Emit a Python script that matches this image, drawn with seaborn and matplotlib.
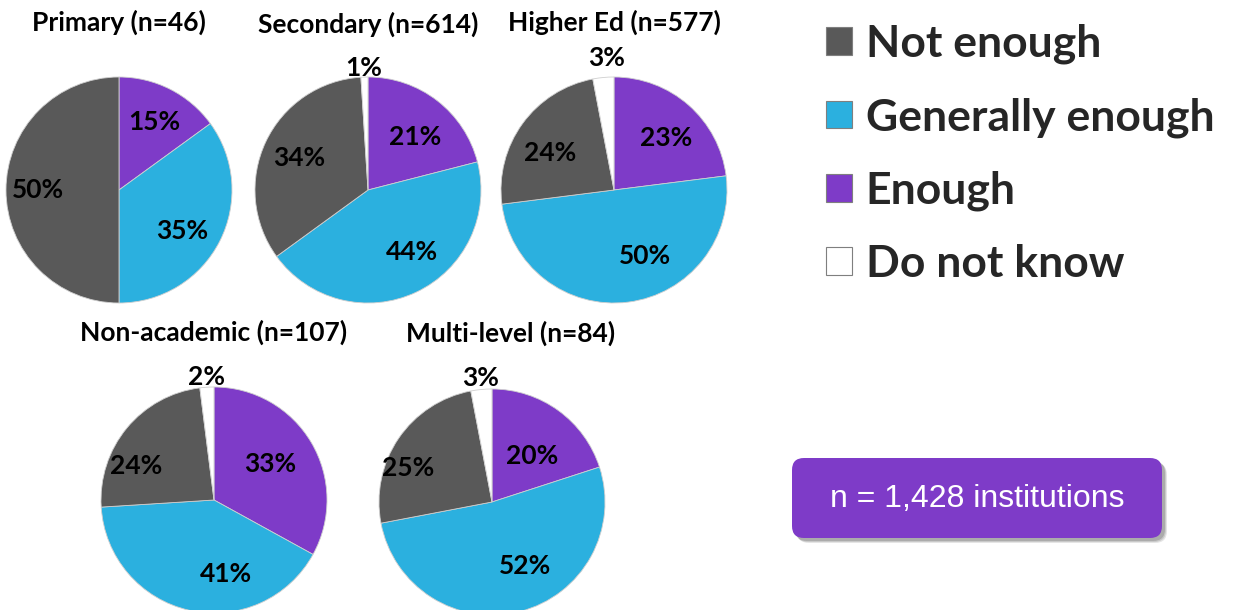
import matplotlib
matplotlib.use("Agg")
import matplotlib.pyplot as plt
from matplotlib.patches import FancyBboxPatch
import numpy as np
import seaborn as sns

# Survey shares per institution type (slices clockwise from 12 o'clock)
groups = ["Primary", "Secondary", "Higher Ed", "Non-academic", "Multi-level"]
group_n = [46, 614, 577, 107, 84]
enough = [15, 21, 23, 33, 20]
generally_enough = [35, 44, 50, 41, 52]
not_enough = [50, 34, 24, 24, 25]
do_not_know = [0, 1, 3, 2, 3]

slice_names = ["Enough", "Generally enough", "Not enough", "Do not know"]
legend_order = ["Not enough", "Generally enough", "Enough", "Do not know"]
total_label = "n = 1,428 institutions"

# label placement per slice: (radial distance in radii, angular shift in degrees)
label_place = [
    [(0.68, 0), (0.67, -6), (0.72, 0), (1.10, 0)],
    [(0.63, -4), (0.67, 10), (0.67, 0), (1.08, 0)],
    [(0.65, -4), (0.65, 18), (0.65, 6), (1.17, -2)],
    [(0.59, 2), (0.66, 22), (0.75, 16), (1.09, 0)],
    [(0.54, -5), (0.64, 13), (0.80, 12), (1.10, 0)],
]

sns.set_style("white")
palette = dict(zip(slice_names, sns.color_palette(["#7E3BC8", "#2BB0DF", "#595959", "#FFFFFF"])))
plt.rcParams["font.family"] = ["Lato", "DejaVu Sans"]

W, H = 1243, 610
fig = plt.figure(figsize=(W / 100, H / 100), dpi=100)
fig.patch.set_facecolor("white")

# Pixel-space overlay for titles and the summary box
over = fig.add_axes([0, 0, 1, 1])
over.set_xlim(0, W)
over.set_ylim(H, 0)
over.axis("off")

# pie centres and radius in pixels, title anchors
centres = [(119, 190), (368, 190), (614, 190), (214, 500), (492, 502)]
title_pos = [(119, 22), (368, 24), (614, 22), (214, 332), (511, 333)]
R = 113
pad = 1.35

for i, g in enumerate(groups):
    cx, cy = centres[i]
    size = 2 * R * pad
    ax = fig.add_axes([(cx - R * pad) / W, 1 - (cy + R * pad) / H, size / W, size / H])
    vals = [enough[i], generally_enough[i], not_enough[i], do_not_know[i]]
    keep = [(v, n, label_place[i][k]) for k, (v, n) in enumerate(zip(vals, slice_names)) if v > 0]
    wedges, _ = ax.pie([v for v, _, _ in keep], colors=[palette[n] for _, n, _ in keep],
                       startangle=90, counterclock=False, radius=1,
                       wedgeprops=dict(edgecolor="#cfcfcf", linewidth=0.6))
    for w, (v, n, (d, shift)) in zip(wedges, keep):
        w.set_label(n)
        mid = np.deg2rad((w.theta1 + w.theta2) / 2 + shift)
        ax.text(d * np.cos(mid), d * np.sin(mid), f"{v}%", ha="center", va="center",
                fontsize=19, fontweight="bold", color="black", clip_on=False)
    ax.set_xlim(-pad, pad)
    ax.set_ylim(-pad, pad)
    ax.set_aspect("equal")
    ax.axis("off")
    tx, ty = title_pos[i]
    over.text(tx, ty, f"{g} (n={group_n[i]})", ha="center", va="center",
              fontsize=19, fontweight="bold", color="black")
    if i == 2:
        handles = {w.get_label(): w for w in wedges}

# Legend built from the wedge handles
leg = fig.legend([handles[n] for n in legend_order], legend_order,
                 loc="upper left", bbox_to_anchor=(808 / W, 1 - 6 / H),
                 frameon=False, prop=dict(family="Lato", weight="bold", size=32),
                 handlelength=0.58, handleheight=0.58, handletextpad=0.32,
                 labelspacing=0.74, borderaxespad=0)
for h in leg.legend_handles:
    h.set_edgecolor("#7f7f7f")
    h.set_linewidth(0.8)

# Summary box with soft drop shadow
bx, by, bw, bh = 792, 458, 370, 80
for k, a in [(5, 0.10), (4, 0.12), (3, 0.15)]:
    over.add_patch(FancyBboxPatch((bx + k, by + k), bw, bh,
                                  boxstyle="round,pad=0,rounding_size=12",
                                  facecolor="#000000", edgecolor="none", alpha=a))
over.add_patch(FancyBboxPatch((bx, by), bw, bh, boxstyle="round,pad=0,rounding_size=12",
                              facecolor="#7E3BC8", edgecolor="none"))
over.text(bx + bw / 2, by + bh / 2 + 1, total_label, ha="center", va="center",
          fontsize=23, color="white", family="Liberation Sans")

fig.savefig("out.png", dpi=100)
